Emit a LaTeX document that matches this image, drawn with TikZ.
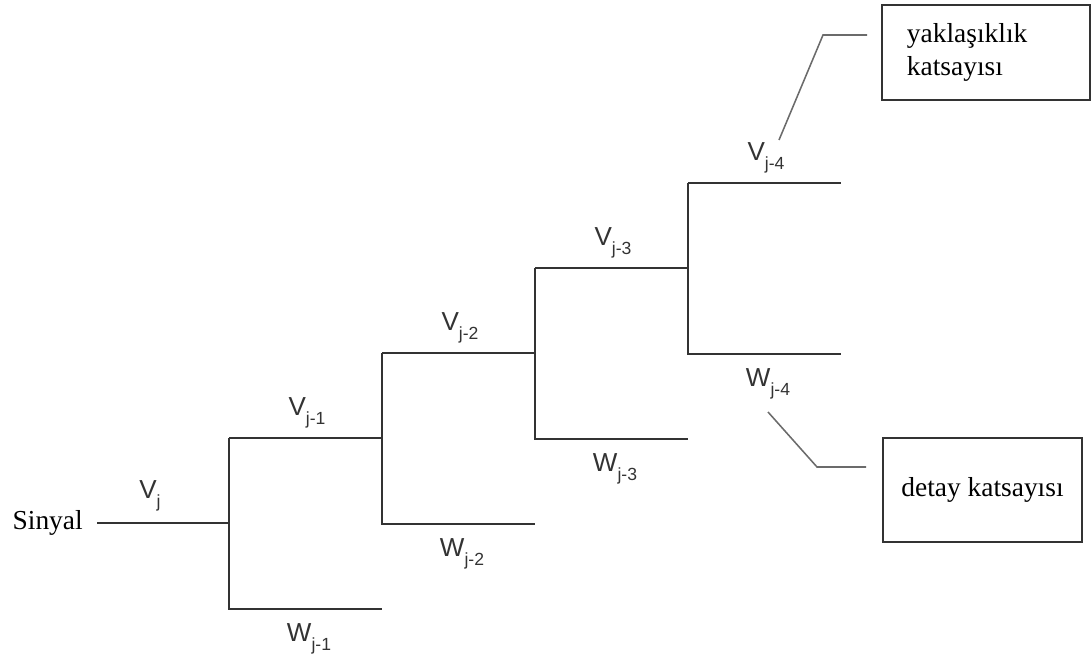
\documentclass[tikz,border=0pt]{standalone}
\usepackage{fontspec}
\setmainfont{Liberation Serif}
\setsansfont{Liberation Sans}
\usetikzlibrary{positioning,calc}
\definecolor{treegray}{rgb}{0.2,0.2,0.2}
\definecolor{callgray}{rgb}{0.42,0.42,0.42}
\newcommand{\coef}[2]{\sffamily #1\raisebox{-0.32em}{\fontsize{12.5}{12.5}\selectfont #2}}

\begin{document}
\begin{tikzpicture}[x=0.025cm,y=-0.025cm,
    branch/.style={line width=1.4pt, draw=treegray},
    coeflabel/.style={font=\fontsize{18.5}{18.5}\selectfont, inner sep=0pt, text=treegray},
    callout/.style={line width=1.1pt, draw=callgray},
    infobox/.style={draw=treegray, line width=1.3pt, inner ysep=0pt, font=\fontsize{19.5}{23.5}\selectfont}]
                \useasboundingbox (0,0) rectangle (1092,661);
                \def\dx{153}
                \def\dy{85}
                % input signal
                \node[font=\fontsize{19.5}{19.5}\selectfont, anchor=east, inner sep=0pt] (sig) at (83,523) {Sinyal};
                \coordinate (in) at (97,523);
                \coordinate (n0) at (229,523);
                \draw[branch] (in) -- (n0);
                \node[coeflabel] (v0) at (150,496) {\coef{V}{j}};
                % four decomposition levels
                \foreach \i [evaluate=\i as \k using int(\i+1)] in {0,...,3} {
                    \coordinate (t\i) at (229+\i*\dx, 523-\i*\dy-\dy);
                    \coordinate (b\i) at (229+\i*\dx, 524-\i*\dy+\dy);
                    \draw[branch] (t\i) -- (b\i) -- ++(\dx,0);
                    \draw[branch] (t\i) -- ++(\dx,0);
                    \node[coeflabel] (v\k) at (229+\i*\dx+78, 523-\i*\dy-\dy-25) {\coef{V}{j-\k}};
                    \node[coeflabel] (w\k) at (229+\i*\dx+80, 524-\i*\dy+\dy+30) {\coef{W}{j-\k}};
                }
                % coefficient boxes
                \node[infobox, minimum width=5.2cm, minimum height=2.375cm, text width=3.95cm, inner xsep=0.625cm, align=left] (approx) at (986,52.5) {yaklaşıklık\\katsayısı};
                \node[infobox, minimum width=4.975cm, minimum height=2.6cm, inner xsep=0pt] (detail) at (982.5,490) {detay katsayısı};
                \coordinate (ac1) at (779,140);
                \coordinate (ac2) at (823,35);
                \coordinate (ac3) at (867,35);
                \draw[callout] (ac1) -- (ac2) -- (ac3);
                \coordinate (dc1) at (768,412);
                \coordinate (dc2) at (817,467);
                \coordinate (dc3) at (866,467);
                \draw[callout] (dc1) -- (dc2) -- (dc3);
            \end{tikzpicture}
\end{document}
